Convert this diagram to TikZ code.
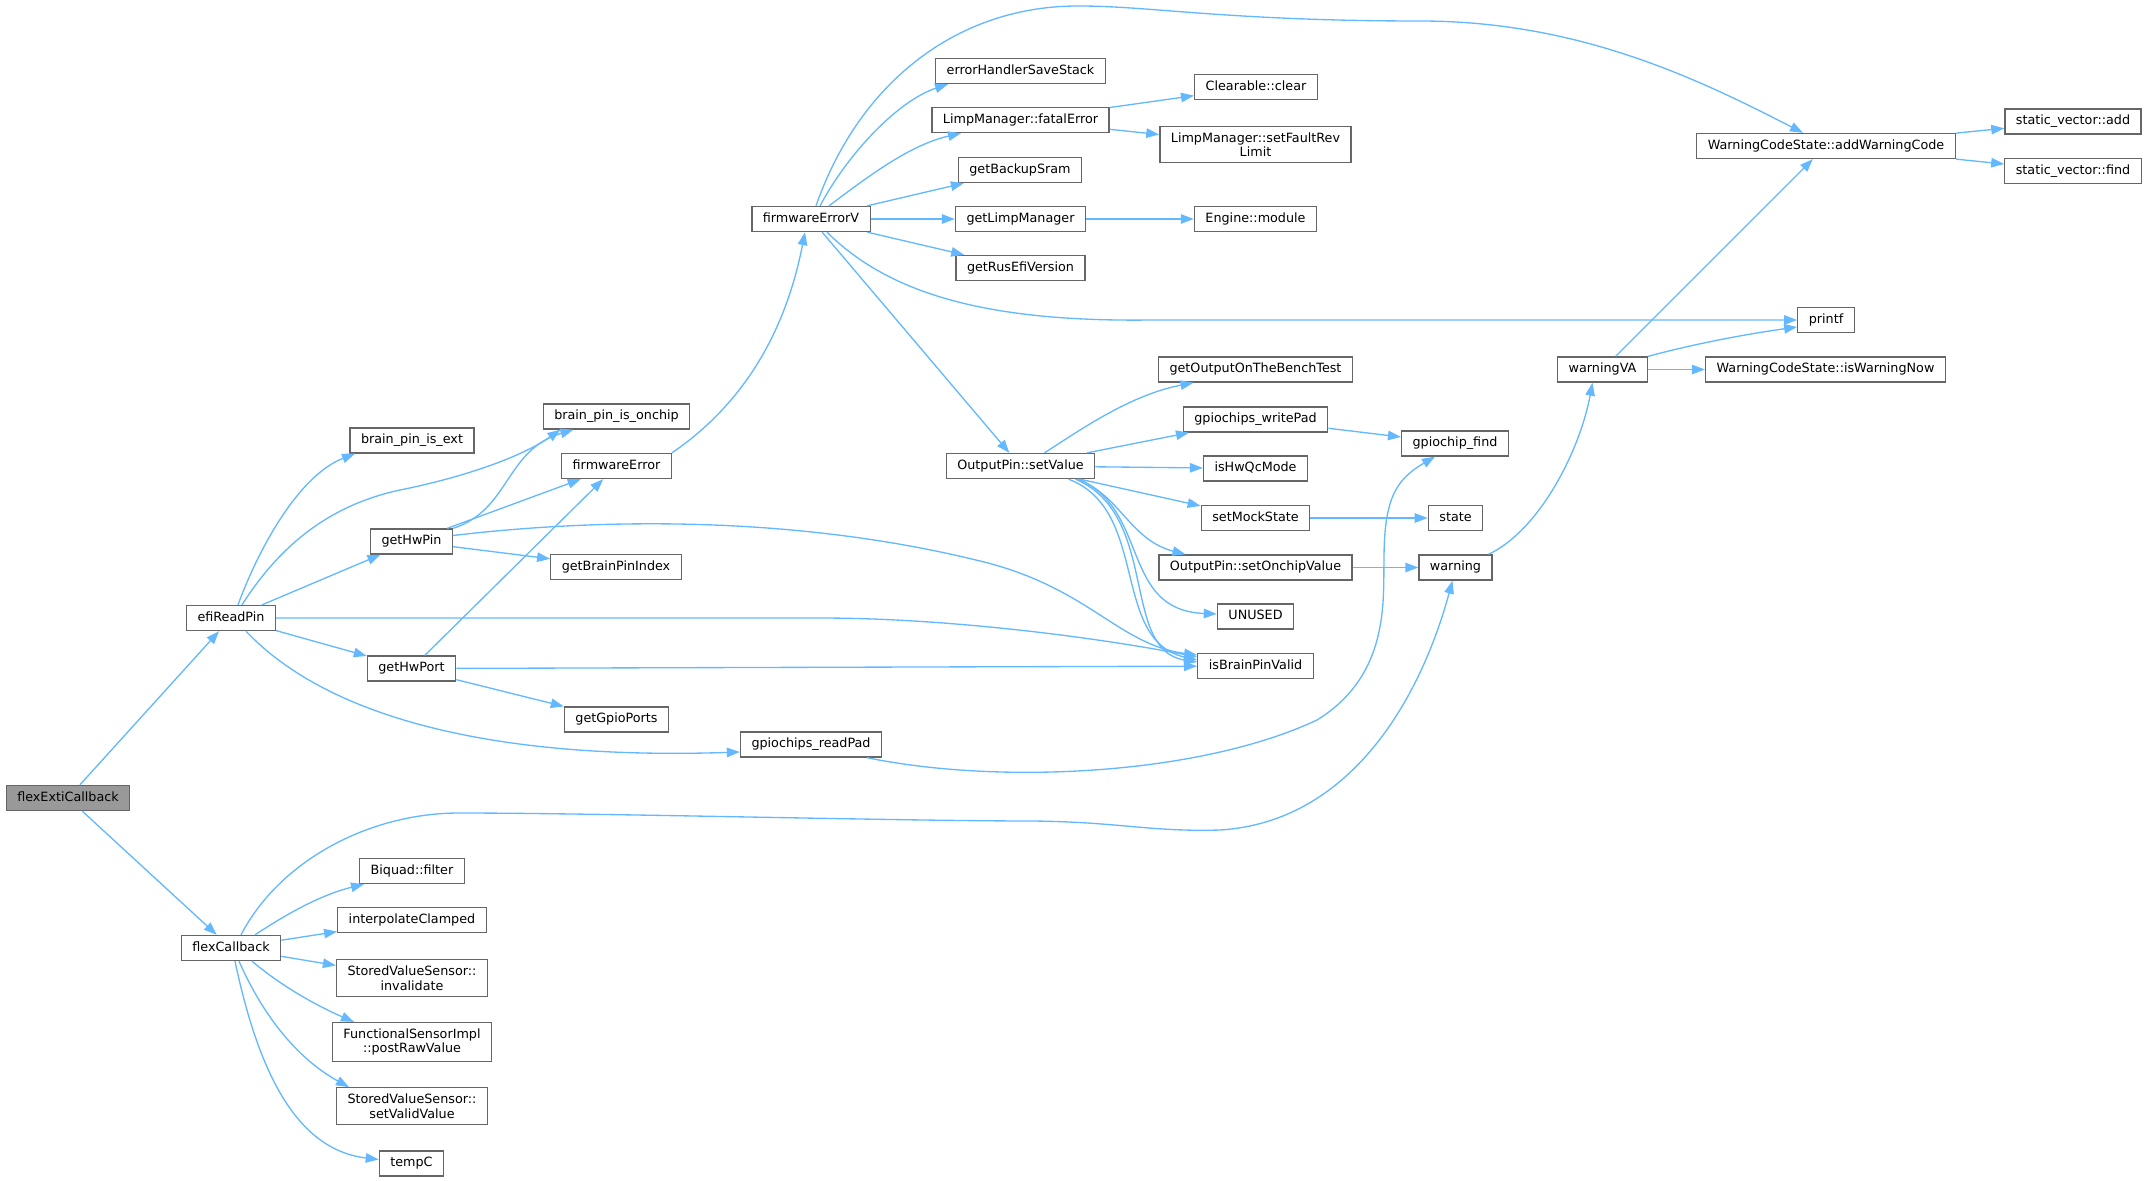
\documentclass[tikz,border=0pt]{standalone}
\usepackage{fontspec}
\setmainfont{DejaVu Sans}
\usetikzlibrary{arrows.meta}
\definecolor{edgec}{HTML}{63B8FF}
\definecolor{bordc}{HTML}{666666}
\definecolor{rootc}{HTML}{999999}
\tikzset{
  fn/.style={draw=bordc, fill=white, line width=1.33pt, inner xsep=11pt, inner ysep=0pt,
    minimum height=25pt, text height=9.4pt, text depth=3pt,
    font=\fontsize{12.75}{14.5}\selectfont},
  fntwo/.style={draw=bordc, fill=white, line width=1.33pt, inner xsep=11pt, inner ysep=6pt,
    align=center, font=\fontsize{12.75}{14.5}\selectfont},
  rootnode/.style={fn, fill=rootc},
  edge/.style={draw=edgec, line width=1.33pt, -{Triangle[length=13pt,width=9.5pt]}}
}
\begin{document}
\begin{tikzpicture}[x=1pt,y=-1pt]
\useasboundingbox (0,0) rectangle (2148,1181);
% ---- nodes
\node[rootnode] (fe) at (68,798) {flexExtiCallback};
\node[fn] (efi) at (231,618) {efiReadPin};
\node[fn] (fc) at (231,948) {flexCallback};
\node[fn] (ext) at (412,440.5) {brain\_pin\_is\_ext};
\node[fn] (onchip) at (616.5,416.5) {brain\_pin\_is\_onchip};
\node[fn] (ferr) at (616.5,466) {firmwareError};
\node[fn] (hwpin) at (411.5,541.5) {getHwPin};
\node[fn] (bpi) at (616,567) {getBrainPinIndex};
\node[fn] (hwport) at (411.5,668.5) {getHwPort};
\node[fn] (gpioports) at (616.5,719.5) {getGpioPorts};
\node[fn] (biquad) at (412,871) {Biquad::filter};
\node[fn] (interp) at (412,920) {interpolateClamped};
\node[fntwo] (inval) at (412,978) {StoredValueSensor::\\invalidate};
\node[fntwo] (postraw) at (412,1042) {FunctionalSensorImpl\\::postRawValue};
\node[fntwo] (setvalid) at (412,1106) {StoredValueSensor::\\setValidValue};
\node[fn] (tempc) at (411.5,1163.5) {tempC};
\node[fn] (fev) at (811,219) {firmwareErrorV};
\node[fn] (readpad) at (811,744.5) {gpiochips\_readPad};
\node[fn] (ehss) at (1020.5,71) {errorHandlerSaveStack};
\node[fn] (fatal) at (1020.5,120) {LimpManager::fatalError};
\node[fn] (sram) at (1020,170) {getBackupSram};
\node[fn] (glm) at (1020.5,219) {getLimpManager};
\node[fn] (rev) at (1020.5,268) {getRusEfiVersion};
\node[fn] (setval) at (1020.5,466) {OutputPin::setValue};
\node[fn] (clear) at (1256,87) {Clearable::clear};
\node[fntwo] (faultrev) at (1255.5,144.5) {LimpManager::setFaultRev\\Limit};
\node[fn] (engmod) at (1255.5,219) {Engine::module};
\node[fn] (bench) at (1255.5,369.5) {getOutputOnTheBenchTest};
\node[fn] (writepad) at (1255.5,419.5) {gpiochips\_writePad};
\node[fn] (hwqc) at (1255.5,468.5) {isHwQcMode};
\node[fn] (mock) at (1255.5,518) {setMockState};
\node[fn] (onchipval) at (1255.5,567.5) {OutputPin::setOnchipValue};
\node[fn] (unused) at (1255.5,616.5) {UNUSED};
\node[fn] (isbp) at (1255.5,666) {isBrainPinValid};
\node[fn] (gfind) at (1455,443.5) {gpiochip\_find};
\node[fn] (state) at (1455.5,518) {state};
\node[fn] (warning) at (1455.5,567.5) {warning};
\node[fn] (warnva) at (1602.5,369.5) {warningVA};
\node[fn] (printf) at (1826,320) {printf};
\node[fn] (iswn) at (1825.5,369.5) {WarningCodeState::isWarningNow};
\node[fn] (addwc) at (1826,146) {WarningCodeState::addWarningCode};
\node[fn] (svadd) at (2073,121.5) {static\_vector::add};
\node[fn] (svfind) at (2073,171) {static\_vector::find};
% ---- straight edges
\draw[edge] (fe) -- (efi);
\draw[edge] (fe) -- (fc);
\draw[edge] (efi) -- (hwpin);
\draw[edge] (efi) -- (hwport);
\draw[edge] (hwpin) -- (ferr);
\draw[edge] (hwpin) -- (bpi);
\draw[edge] (hwport) -- (ferr);
\draw[edge] (hwport) -- (isbp);
\draw[edge] (hwport) -- (gpioports);
\draw[edge] (fev) -- (sram);
\draw[edge] (fev) -- (glm);
\draw[edge] (fev) -- (rev);
\draw[edge] (fev) -- (setval);
\draw[edge] (fatal) -- (clear);
\draw[edge] (fatal) -- (faultrev);
\draw[edge] (glm) -- (engmod);
\draw[edge] (setval) -- (writepad);
\draw[edge] (setval) -- (hwqc);
\draw[edge] (setval) -- (mock);
\draw[edge] (writepad) -- (gfind);
\draw[edge] (mock) -- (state);
\draw[edge] (onchipval) -- (warning);
\draw[edge] (warnva) -- (addwc);
\draw[edge] (warnva) -- (iswn);
\draw[edge] (addwc) -- (svadd);
\draw[edge] (addwc) -- (svfind);
\draw[edge] (fc) -- (interp);
\draw[edge] (fc) -- (inval);
% ---- curved edges
\draw[edge] ([xshift=7pt]efi.north) .. controls (260,545) and (300,475) .. ([xshift=-57pt]ext.south);
\draw[edge] ([xshift=11pt]efi.north) .. controls (280,545) and (330,505) .. (400,490)
  .. controls (460,478) and (520,458) .. ([xshift=-56pt]onchip.south);
\draw[edge] (efi.east) -- (820,618) .. controls (950,618) and (1100,638) .. ([yshift=9pt]isbp.west);
\draw[edge] (hwpin.north east) .. controls (510,510) and (505,450) .. ([xshift=-43pt]onchip.south);
\draw[edge] ([yshift=6pt]hwpin.east) .. controls (600,518) and (800,515) .. (988,563)
  .. controls (1090,590) and (1120,645) .. ([yshift=11pt]isbp.west);
\draw[edge] ([xshift=15pt]efi.south) .. controls (330,720) and (500,760) .. ([yshift=-7.5pt]readpad.west);
\draw[edge] (ferr.north east) .. controls (720,420) and (780,360) .. ([xshift=-6pt]fev.south);
\draw[edge] ([xshift=5pt]fev.north) .. controls (860,80) and (960,5) .. (1080,6)
  .. controls (1150,6) and (1230,21) .. (1420,21)
  .. controls (1580,21) and (1700,80) .. ([xshift=-23pt]addwc.north);
\draw[edge] ([xshift=9pt]fev.north) .. controls (850,150) and (900,100) .. ([xshift=-72.5pt]ehss.south);
\draw[edge] ([xshift=18pt]fev.north) .. controls (870,175) and (910,145) .. ([xshift=-59.5pt]fatal.south);
\draw[edge] ([xshift=16pt]fev.south) .. controls (890,295) and (990,322) .. (1150,320) -- (printf.west);
\draw[edge] ([xshift=24pt]setval.north) .. controls (1080,430) and (1130,395) .. ([xshift=-62pt]bench.south);
\draw[edge] ([xshift=57pt]setval.south) .. controls (1120,495) and (1130,540) .. ([xshift=-70pt]onchipval.north);
\draw[edge] ([xshift=58pt]setval.south) .. controls (1150,510) and (1120,610) .. ([yshift=2.5pt]unused.west);
\draw[edge] ([xshift=48pt]setval.south) .. controls (1150,510) and (1110,640) .. ([yshift=6pt]isbp.west);
\draw[edge] ([xshift=55pt]setval.south) .. controls (1160,515) and (1120,650) .. ([yshift=4pt]isbp.west);
\draw[edge] ([xshift=56pt]readpad.south) .. controls (1000,785) and (1200,775) .. (1317,720)
  .. controls (1390,675) and (1383,600) .. (1384,560)
  .. controls (1384,500) and (1395,480) .. ([xshift=-20pt]gfind.south);
\draw[edge] ([xshift=33pt]warning.north) .. controls (1540,530) and (1580,450) .. ([xshift=-10pt]warnva.south);
\draw[edge] (warnva.north east) .. controls (1690,345) and (1740,335) .. ([yshift=-7pt]printf.west);
\draw[edge] ([xshift=24pt]fc.north) .. controls (285,915) and (320,895) .. ([xshift=-48pt]biquad.south);
\draw[edge] ([xshift=21pt]fc.south) .. controls (280,985) and (315,1005) .. ([xshift=-58pt]postraw.north);
\draw[edge] ([xshift=8pt]fc.south) .. controls (265,1020) and (300,1060) .. ([xshift=-63pt]setvalid.north);
\draw[edge] ([xshift=4pt]fc.south) .. controls (260,1080) and (300,1150) .. ([yshift=4pt]tempc.west);
\draw[edge] ([xshift=10pt]fc.north) .. controls (280,860) and (370,813) .. (459,813)
  .. controls (600,813) and (900,821) .. (1033,821)
  .. controls (1120,822) and (1150,832) .. (1220,830)
  .. controls (1350,822) and (1420,700) .. ([xshift=-3pt]warning.south);
\end{tikzpicture}
\end{document}
